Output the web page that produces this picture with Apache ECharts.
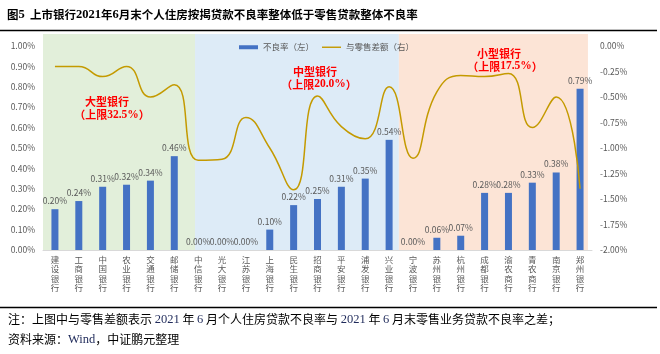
<!DOCTYPE html>
<html>
<head>
<meta charset="utf-8">
<script src="https://cdn.jsdelivr.net/npm/echarts@6/dist/echarts.min.js"></script>
<style>
  html, body { margin: 0; padding: 0; background: #fff; }
  #main { width: 660px; height: 354px; }
</style>
</head>
<body>
<div id="main"></div>
<script>
// 银行名称
var banks = ['建设银行', '工商银行', '中国银行', '农业银行', '交通银行', '邮储银行',
  '中信银行', '光大银行', '江苏银行', '上海银行', '民生银行', '招商银行', '平安银行', '浦发银行', '兴业银行',
  '宁波银行', '苏州银行', '杭州银行', '成都银行', '渝农商行', '青农商行', '南京银行', '郑州银行'];
// 个人住房贷款不良率（左，%）
var nplRate = [0.20, 0.24, 0.31, 0.32, 0.34, 0.46,
  0.00, 0.00, 0.00, 0.10, 0.22, 0.25, 0.31, 0.35, 0.54,
  0.00, 0.06, 0.07, 0.28, 0.28, 0.33, 0.38, 0.79];
// 与零售差额（右，%）
var retailDiff = [-0.20, -0.20, -0.30, -0.20, -0.50, -0.38,
  -1.12, -1.11, -0.70, -1.00, -1.41, -0.49, -0.79, -0.91, -0.40,
  -1.10, -0.45, -0.29, -0.30, -0.27, -0.80, -0.50, -1.40];
// 背景分组区间（按类目序号）
var groupStart = [0, 6.37, 14.91];
var groupEnd = [6.37, 14.91, 22.83];
var groupColor = ['#E2EFDA', '#DDEBF7', '#FCE4D6'];

var chart = echarts.init(document.getElementById('main'));

var areas = [];
for (var i = 0; i < groupStart.length; i++) {
  areas.push([{ xAxis: groupStart[i], itemStyle: { color: groupColor[i] } }, { xAxis: groupEnd[i] }]);
}

var gray = '#595959';
var gold = '#C49A00';
var cjk = '"Noto Sans CJK SC", sans-serif';
var serif = '"Liberation Serif", "Times New Roman", serif';

function redLabel(x, y, txt) {
  return {
    type: 'text', z: 100,
    style: {
      x: x, y: y, align: 'center', verticalAlign: 'middle',
      text: txt,
      rich: {
        c: { fontFamily: cjk, fontSize: 11, fontWeight: 'bold', fill: '#FF0000' },
        n: { fontFamily: serif, fontSize: 11.5, fontWeight: 'bold', fill: '#FF0000' }
      }
    }
  };
}

chart.setOption({
  animation: false,
  textStyle: { fontFamily: cjk },
  grid: [
    { left: 43, right: 68, top: 46, bottom: 104 },
    { left: 43, right: 68, top: 34, bottom: 104 }
  ],
  legend: {
    left: 239, top: 43, padding: 0,
    itemWidth: 19, itemHeight: 4, itemGap: 8,
    textStyle: { fontSize: 8.5, color: gray },
    data: [
      { name: '不良率（左）', icon: 'rect' },
      { name: '与零售差额（右）', icon: 'path://M0,0L20,0L20,1.5L0,1.5Z' }
    ]
  },
  xAxis: [
    {
      type: 'category', gridIndex: 0, data: banks,
      axisLine: { lineStyle: { color: '#D9D9D9' } },
      axisTick: { length: 4, lineStyle: { color: '#D9D9D9' } },
      axisLabel: {
        interval: 0, margin: 5, fontSize: 8.5, lineHeight: 9.5, color: gray,
        formatter: function (v) { return v.split('').join('\n'); }
      }
    },
    { type: 'value', gridIndex: 1, min: 0, max: 23, show: false }
  ],
  yAxis: [
    {
      type: 'value', gridIndex: 0, min: 0, max: 1, interval: 0.1,
      splitLine: { show: false }, axisLine: { show: false },
      axisLabel: { fontSize: 8.5, color: gray, margin: 8, formatter: function (v) { return v.toFixed(2) + '%'; } }
    },
    {
      type: 'value', gridIndex: 0, min: -2, max: 0, interval: 0.25,
      splitLine: { show: false }, axisLine: { show: false },
      axisLabel: { fontSize: 8.5, color: gray, margin: 8, formatter: function (v) { return v.toFixed(2) + '%'; } }
    },
    { type: 'value', gridIndex: 1, min: 0, max: 1, show: false }
  ],
  series: [
    {
      name: 'bg', type: 'line', xAxisIndex: 1, yAxisIndex: 2, data: [], silent: true, z: 0,
      markArea: { silent: true, data: areas }
    },
    {
      name: '不良率（左）', type: 'bar', xAxisIndex: 0, yAxisIndex: 0, z: 3,
      data: nplRate, barWidth: 7,
      itemStyle: { color: '#4472C4' },
      label: {
        show: true, position: 'top', distance: 4, fontSize: 8.5, color: gray,
        formatter: function (p) { return p.value.toFixed(2) + '%'; }
      }
    },
    {
      name: '与零售差额（右）', type: 'line', xAxisIndex: 0, yAxisIndex: 1, z: 4,
      data: retailDiff, smooth: 0.5, symbol: 'none', showSymbol: false,
      lineStyle: { width: 1.5, color: gold },
      itemStyle: { color: gold }
    }
  ],
  graphic: [
    {
      type: 'text', z: 100,
      style: {
        x: 7, y: 15, verticalAlign: 'middle',
        text: '{c|图}{n|5}{c|  上市银行}{n|2021}{c|年}{n|6}{c|月末个人住房按揭贷款不良率整体低于零售贷款整体不良率}',
        rich: {
          c: { fontFamily: cjk, fontSize: 11.5, fontWeight: 'bold', fill: '#000' },
          n: { fontFamily: serif, fontSize: 12.5, fontWeight: 'bold', fill: '#000' }
        }
      }
    },
    { type: 'line', z: 100, shape: { x1: 0, y1: 30.5, x2: 657, y2: 30.5 }, style: { stroke: '#000', lineWidth: 1.5 } },
    { type: 'line', z: 100, shape: { x1: 0, y1: 307.5, x2: 657, y2: 307.5 }, style: { stroke: '#000', lineWidth: 1.5 } },
    redLabel(107, 101.5, '{c|大型银行}'),
    redLabel(112, 115, '{c|（上限}{n|32.5%}{c|）}'),
    redLabel(315, 71.5, '{c|中型银行}'),
    redLabel(319, 84.5, '{c|（上限}{n|20.0%}{c|）}'),
    redLabel(499, 53.5, '{c|小型银行}'),
    redLabel(505, 66.5, '{c|（上限}{n|17.5%}{c|）}'),
    {
      type: 'text', z: 100,
      style: {
        x: 8, y: 319.5, verticalAlign: 'middle',
        text: '{c|注：上图中与零售差额表示 }{n|2021}{c| 年 }{n|6}{c| 月个人住房贷款不良率与 }{n|2021}{c| 年 }{n|6}{c| 月末零售业务贷款不良率之差；}',
        rich: {
          c: { fontFamily: cjk, fontSize: 12, fill: '#000' },
          n: { fontFamily: serif, fontSize: 12.5, fill: '#1F2A5A' }
        }
      }
    },
    {
      type: 'text', z: 100,
      style: {
        x: 8, y: 339.5, verticalAlign: 'middle',
        text: '{c|资料来源：}{n|Wind}{c|，中证鹏元整理}',
        rich: {
          c: { fontFamily: cjk, fontSize: 12, fill: '#000' },
          n: { fontFamily: serif, fontSize: 12.5, fill: '#1F2A5A' }
        }
      }
    }
  ]
});
</script>
</body>
</html>
